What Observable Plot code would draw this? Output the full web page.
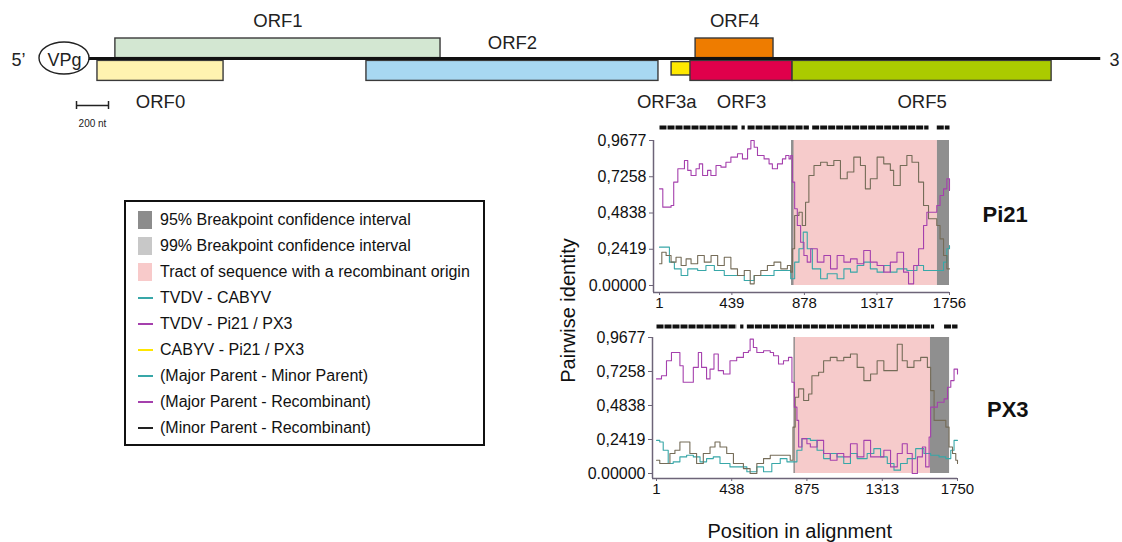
<!DOCTYPE html>
<html>
<head>
<meta charset="utf-8">
<script src="https://cdn.jsdelivr.net/npm/d3@7"></script>
<script src="https://cdn.jsdelivr.net/npm/@observablehq/plot@0.6"></script>
<style>
  html, body { margin: 0; padding: 0; background: #fff; }
  body { font-family: "Liberation Sans", Arial, Helvetica, sans-serif; color: #111; }
  #root { position: relative; width: 1122px; height: 542px; overflow: hidden; background: #fff; }
  #legend { position: absolute; left: 124px; top: 200px; width: 357px; height: 237px; border: 2px solid #111; box-sizing: content-box; padding-top: 5px; }
  .lrow { position: relative; height: 26px; font-size: 16px; line-height: 26px; white-space: nowrap; }
  .lrow .sw { position: absolute; left: 12px; top: 4px; width: 14px; height: 18px; }
  .lrow .ln { position: absolute; left: 12px; top: 12px; width: 15px; height: 2px; }
  .lrow .tx { position: absolute; left: 34px; top: 0; }
  .ttl { position: absolute; font-size: 20px; white-space: nowrap; }
  .tag { position: absolute; font-size: 22px; font-weight: bold; white-space: nowrap; }
</style>
</head>
<body>
<div id="root"></div>
<script>
// ---------------- Genome map data (nt) ----------------
const orfNames  = ["ORF0", "ORF1", "ORF2", "ORF3a", "ORF3", "ORF4", "ORF5"];
const orfStart  = [0, 112, 1681, 3588, 3706, 3738, 4344];
const orfEnd    = [788, 2144, 3506, 3719, 4344, 4225, 5963];
const orfRow    = ["bottom", "top", "bottom", "small", "bottom", "top", "bottom"];
const orfLabel  = ["below", "above", "overLine", "belowEnd", "below", "above", "below"];
const genomeStart = -56;
const genomeEnd = 6270;
const vpgCenter = -206;
const scaleBarStart = -131;
const scaleBarLength = 200;
const scaleBarText = "200 nt";

// ---------------- Recombination plot data ----------------
const yTickValues = [0, 0.2419, 0.4838, 0.7258, 0.9677];
const yTickLabels = ["0.00000", "0,2419", "0,4838", "0,7258", "0,9677"];
const pi21XTicks = [1, 439, 878, 1317, 1756];
const px3XTicks = [1, 438, 875, 1313, 1750];
const pairNames = ["Major Parent - Minor Parent", "Major Parent - Recombinant", "Minor Parent - Recombinant"];

// Pi21
const pi21MajRecPos = [1,21,71,87,112,152,172,192,222,242,262,292,312,343,373,403,433,473,503,534,554,574,594,634,664,684,715,745,765,785,795,805,819,835,855,875,895,916,956,996,1036,1076,1117,1157,1197,1237,1277,1318,1358,1398,1438,1478,1508,1539,1569,1599,1619,1679,1699,1720,1740,1756];
const pi21MajRecVal = [0.645,0.523,0.534,0.690,0.779,0.834,0.768,0.734,0.779,0.812,0.734,0.768,0.734,0.801,0.790,0.823,0.857,0.879,0.845,0.912,0.968,0.923,0.868,0.845,0.812,0.779,0.812,0.845,0.868,0.845,0.868,0.690,0.512,0.400,0.289,0.200,0.156,0.245,0.156,0.200,0.111,0.200,0.156,0.178,0.145,0.234,0.156,0.133,0.089,0.156,0.222,0.089,0.011,0.133,0.245,0.400,0.489,0.534,0.601,0.645,0.712,0.634];
const pi21MinRecPos = [1,15,41,71,101,132,162,192,232,272,313,353,393,433,473,514,550,574,614,654,694,735,775,795,805,819,845,865,885,905,936,976,1016,1056,1096,1137,1177,1217,1247,1277,1318,1358,1398,1418,1458,1498,1529,1569,1599,1629,1679,1699,1720,1740,1756];
const pi21MinRecVal = [0.145,0.222,0.200,0.156,0.189,0.133,0.178,0.145,0.200,0.156,0.200,0.133,0.189,0.111,0.067,0.100,0.011,0.067,0.100,0.133,0.156,0.111,0.133,0.089,0.245,0.467,0.489,0.400,0.556,0.734,0.801,0.823,0.801,0.834,0.712,0.757,0.857,0.801,0.645,0.712,0.857,0.812,0.768,0.667,0.801,0.868,0.823,0.690,0.534,0.445,0.400,0.311,0.200,0.111,0.111];
const pi21MajMinPos = [1,41,61,91,132,172,232,282,333,393,453,514,574,634,694,755,795,819,845,871,895,926,976,1016,1076,1117,1157,1197,1237,1277,1318,1358,1398,1438,1498,1559,1599,1639,1699,1720,1740,1756];
const pi21MajMinVal = [0.256,0.256,0.156,0.111,0.067,0.111,0.100,0.133,0.100,0.067,0.067,0.033,0.067,0.067,0.100,0.100,0.045,0.156,0.245,0.356,0.245,0.111,0.045,0.078,0.045,0.111,0.089,0.133,0.156,0.111,0.089,0.133,0.089,0.111,0.100,0.133,0.100,0.100,0.100,0.156,0.245,0.267];
const pi21Tract = [[800, 1683]];
const pi21Ci95 = [[800, 815], [1683, 1756]];
const pi21Sites = [[1, 473], [497, 517], [534, 905], [925, 1629], [1679, 1756]];

// PX3
const px3MajRecPos = [1,30,59,88,118,137,156,186,215,244,263,292,312,335,360,390,428,467,506,535,545,564,584,623,662,681,710,739,768,788,802,817,827,846,875,895,934,972,1011,1050,1089,1128,1167,1206,1245,1283,1322,1361,1400,1429,1458,1487,1517,1546,1565,1585,1594,1633,1672,1692,1711,1730,1750];
const px3MajRecVal = [0.673,0.696,0.802,0.861,0.861,0.767,0.649,0.649,0.755,0.861,0.755,0.673,0.743,0.850,0.732,0.708,0.802,0.826,0.861,0.873,0.956,0.897,0.861,0.873,0.861,0.838,0.779,0.802,0.826,0.649,0.472,0.378,0.189,0.248,0.212,0.189,0.236,0.142,0.094,0.142,0.118,0.212,0.118,0.236,0.118,0.118,0.165,0.047,0.142,0.212,0.142,0.000,0.118,0.189,0.047,0.260,0.472,0.507,0.531,0.614,0.661,0.743,0.708];
const px3MinRecPos = [1,20,50,79,108,137,176,195,234,273,312,341,370,409,448,506,545,584,623,662,720,778,794,807,827,856,885,904,943,972,1011,1050,1089,1128,1167,1206,1245,1283,1322,1361,1400,1429,1458,1497,1536,1575,1594,1614,1653,1682,1701,1721,1740,1750];
const px3MinRecVal = [0.094,0.071,0.071,0.142,0.165,0.224,0.224,0.142,0.071,0.142,0.189,0.224,0.189,0.142,0.071,0.035,0.000,0.071,0.106,0.130,0.130,0.094,0.330,0.543,0.602,0.519,0.566,0.696,0.720,0.802,0.826,0.802,0.826,0.850,0.755,0.661,0.708,0.802,0.732,0.732,0.920,0.802,0.755,0.802,0.826,0.755,0.590,0.378,0.378,0.330,0.189,0.142,0.094,0.071];
const px3MajMinPos = [1,20,40,69,98,137,176,215,254,292,331,370,428,487,526,584,623,671,720,759,788,817,846,895,934,972,1011,1050,1089,1128,1167,1225,1264,1303,1342,1381,1419,1458,1507,1555,1594,1643,1682,1711,1730,1750];
const px3MajMinVal = [0.236,0.224,0.165,0.071,0.083,0.118,0.130,0.118,0.083,0.106,0.118,0.071,0.047,0.047,0.012,0.047,0.012,0.071,0.106,0.083,0.083,0.165,0.248,0.236,0.165,0.106,0.142,0.118,0.071,0.142,0.106,0.142,0.177,0.118,0.071,0.024,0.071,0.106,0.177,0.142,0.130,0.118,0.106,0.165,0.236,0.236];
const px3Tract = [[800, 1593]];
const px3Ci95 = [[800, 808], [1593, 1704]];
const px3Sites = [[1, 467], [487, 506], [526, 1614], [1672, 1750]];

// Legend entries
const legendLabels = ["95% Breakpoint confidence interval", "99% Breakpoint confidence interval", "Tract of sequence with a recombinant origin", "TVDV - CABYV", "TVDV - Pi21 / PX3", "CABYV - Pi21 / PX3", "(Major Parent - Minor Parent)", "(Major Parent - Recombinant)", "(Minor Parent - Recombinant)"];
const legendKinds = ["box", "box", "box", "line", "line", "line", "line", "line", "line"];

// ---------------- Styles ----------------
const FONT = '"Liberation Sans", Arial, Helvetica, sans-serif';
const orfColors = ["#fff3b0", "#d3e7d2", "#a8d8f2", "#ffe900", "#e0004b", "#ee7c00", "#abcb00"];
const pairColors = ["#38a7a8", "#a540ad", "#756c58"];
const legendColors = ["#8c8c8c", "#c8c8c8", "#f8caca", "#38a7a8", "#a540ad", "#ffe600", "#38a7a8", "#a540ad", "#222"];
const tractColor = "#f6cbcb";
const ci95Color = "#8f8f8f";

const root = document.getElementById("root");

// ---------------- Genome map ----------------
const orfs = orfNames.map((name, i) => ({name, start: orfStart[i], end: orfEnd[i], row: orfRow[i], label: orfLabel[i]}));
const rowTop = {top: 1.0, bottom: -0.12, small: -0.18};
const rowBot = {top: 0.02, bottom: -1.12, small: -0.85};
const labelY = {above: 1.85, overLine: 0.75, below: -2.2, belowEnd: -2.2};

const genome = Plot.plot({
  width: 1122, height: 140,
  marginLeft: 0, marginRight: 0, marginTop: 0, marginBottom: 0,
  x: {domain: [-606, 6406], axis: null},
  y: {domain: [-4.1, 2.9], axis: null},
  color: {domain: orfNames, range: orfColors},
  style: {fontFamily: FONT, fontSize: "18px", color: "#111", background: "transparent"},
  marks: [
    Plot.rect(orfs, {x1: "start", x2: "end", y1: d => rowBot[d.row], y2: d => rowTop[d.row], fill: "name", stroke: "#3a3a3a", strokeWidth: 1.4}),
    Plot.ruleY([0], {x1: genomeStart, x2: genomeEnd, stroke: "#111", strokeWidth: 3}),
    Plot.text(orfs.filter(d => d.label !== "belowEnd"), {x: d => (d.start + d.end) / 2, y: d => labelY[d.label], text: "name", fontSize: 18.5, fill: "#222"}),
    Plot.text(orfs.filter(d => d.label === "belowEnd"), {x: "end", y: d => labelY[d.label], text: "name", textAnchor: "end", dx: 4, fontSize: 18.5, fill: "#222"}),
    Plot.text(["5\u2019"], {x: -494, y: -0.1, text: d => d, fontSize: 18, fill: "#222"}),
    Plot.text(["3"], {x: 6356, y: -0.1, text: d => d, fontSize: 18, fill: "#222"}),
    Plot.text(["VPg"], {x: vpgCenter, y: -0.1, text: d => d, fontSize: 18, fill: "#222"}),
    Plot.link([scaleBarStart], {x1: d => d, x2: d => d + scaleBarLength, y1: -2.35, y2: -2.35, stroke: "#222", strokeWidth: 1.5}),
    Plot.ruleX([scaleBarStart, scaleBarStart + scaleBarLength], {y1: -2.15, y2: -2.55, stroke: "#222", strokeWidth: 1.5}),
    Plot.text([scaleBarText], {x: scaleBarStart + scaleBarLength / 2, y: -3.25, text: d => d, fontSize: 10, fill: "#222"})
  ]
});
genome.style.position = "absolute";
genome.style.left = "0px";
genome.style.top = "0px";
root.appendChild(genome);
{
  const sx = genome.scale("x"), sy = genome.scale("y");
  d3.select(genome).insert("ellipse", ":first-child")
    .attr("cx", sx.apply(vpgCenter)).attr("cy", sy.apply(0))
    .attr("rx", 25).attr("ry", 16)
    .attr("fill", "#fff").attr("stroke", "#222").attr("stroke-width", 1.4);
  const ell = genome.querySelector("ellipse");
  const texts = genome.querySelectorAll("g[aria-label='text']");
  genome.insertBefore(ell, texts[0]);
}

// ---------------- Legend ----------------
const legend = document.createElement("div");
legend.id = "legend";
legendLabels.forEach((lab, i) => {
  const row = document.createElement("div");
  row.className = "lrow";
  const sw = document.createElement("div");
  sw.className = legendKinds[i] === "box" ? "sw" : "ln";
  sw.style.background = legendColors[i];
  const tx = document.createElement("div");
  tx.className = "tx";
  tx.textContent = lab;
  row.appendChild(sw); row.appendChild(tx);
  legend.appendChild(row);
});
root.appendChild(legend);

// ---------------- Recombination panels ----------------
function panel(cfg) {
  const rows = [];
  cfg.series.forEach(s => s.pos.forEach((p, i) => rows.push({pair: s.pair, pos: p, val: s.val[i]})));
  const yMax = yTickValues[yTickValues.length - 1];
  const xDom = [cfg.xTicks[0], cfg.xTicks[cfg.xTicks.length - 1]];
  const toObj = a => ({start: a[0], end: a[1]});
  const svg = Plot.plot({
    width: cfg.width, height: cfg.height,
    marginLeft: cfg.mL, marginRight: cfg.mR, marginTop: cfg.mT, marginBottom: cfg.mB,
    style: {fontFamily: FONT, fontSize: "15px", color: "#111", background: "transparent", overflow: "visible"},
    x: {domain: xDom, insetLeft: cfg.iL, label: null},
    y: {domain: [0, yMax], insetBottom: cfg.iB, label: null},
    color: {domain: pairNames, range: pairColors},
    marks: [
      Plot.rect(cfg.tract.map(toObj), {x1: "start", x2: "end", y1: 0, y2: yMax, fill: tractColor}),
      Plot.rect(cfg.ci95.map(toObj), {x1: "start", x2: "end", y1: 0, y2: yMax, fill: ci95Color}),
      Plot.line(rows, {x: "pos", y: "val", z: "pair", stroke: "pair", curve: "step-after", strokeWidth: 1.1}),
      Plot.link(cfg.sites.map(toObj), {x1: "start", x2: "end", y1: yMax, y2: yMax, dy: -cfg.sitesDy, stroke: "#111", strokeWidth: 4, strokeDasharray: "7,1"}),
      Plot.ruleX([xDom[0]], {dx: -cfg.iL, stroke: "#6d6478", strokeWidth: 1.5}),
      Plot.ruleY([0], {dy: cfg.iB, stroke: "#6d6478", strokeWidth: 1.5}),
      Plot.axisX({ticks: cfg.xTicks, tickFormat: d => String(d), tickSize: 3, tickPadding: 2, fontSize: 15, label: null, stroke: "#6d6478"}),
      Plot.axisY({ticks: yTickValues, tickFormat: d => yTickLabels[yTickValues.indexOf(d)], tickSize: 4, tickPadding: 3, fontSize: 16, label: null, stroke: "#6d6478"})
    ]
  });
  svg.style.position = "absolute";
  svg.style.left = cfg.left + "px";
  svg.style.top = cfg.top + "px";
  root.appendChild(svg);
}

panel({
  left: 590, top: 115, width: 380, height: 195,
  mL: 63, mR: 21, mT: 25, mB: 18, iL: 6, iB: 7, sitesDy: 13,
  xTicks: pi21XTicks,
  series: [
    {pair: pairNames[0], pos: pi21MajMinPos, val: pi21MajMinVal},
    {pair: pairNames[2], pos: pi21MinRecPos, val: pi21MinRecVal},
    {pair: pairNames[1], pos: pi21MajRecPos, val: pi21MajRecVal}
  ],
  tract: pi21Tract, ci95: pi21Ci95, sites: pi21Sites
});

panel({
  left: 590, top: 310, width: 380, height: 200,
  mL: 62, mR: 13, mT: 27, mB: 32, iL: 4, iB: 5, sitesDy: 11,
  xTicks: px3XTicks,
  series: [
    {pair: pairNames[0], pos: px3MajMinPos, val: px3MajMinVal},
    {pair: pairNames[2], pos: px3MinRecPos, val: px3MinRecVal},
    {pair: pairNames[1], pos: px3MajRecPos, val: px3MajRecVal}
  ],
  tract: px3Tract, ci95: px3Ci95, sites: px3Sites
});

// ---------------- Titles ----------------
function addText(cls, text, cx, cy, rotate) {
  const el = document.createElement("div");
  el.className = cls;
  el.textContent = text;
  root.appendChild(el);
  const w = el.offsetWidth, h = el.offsetHeight;
  el.style.left = (cx - w / 2) + "px";
  el.style.top = (cy - h / 2) + "px";
  if (rotate) el.style.transform = "rotate(" + rotate + "deg)";
}
addText("ttl", "Pairwise identity", 568, 310, -90);
addText("ttl", "Position in alignment", 800, 531);
addText("tag", "Pi21", 1005, 215);
addText("tag", "PX3", 1008, 410);
</script>
</body>
</html>
